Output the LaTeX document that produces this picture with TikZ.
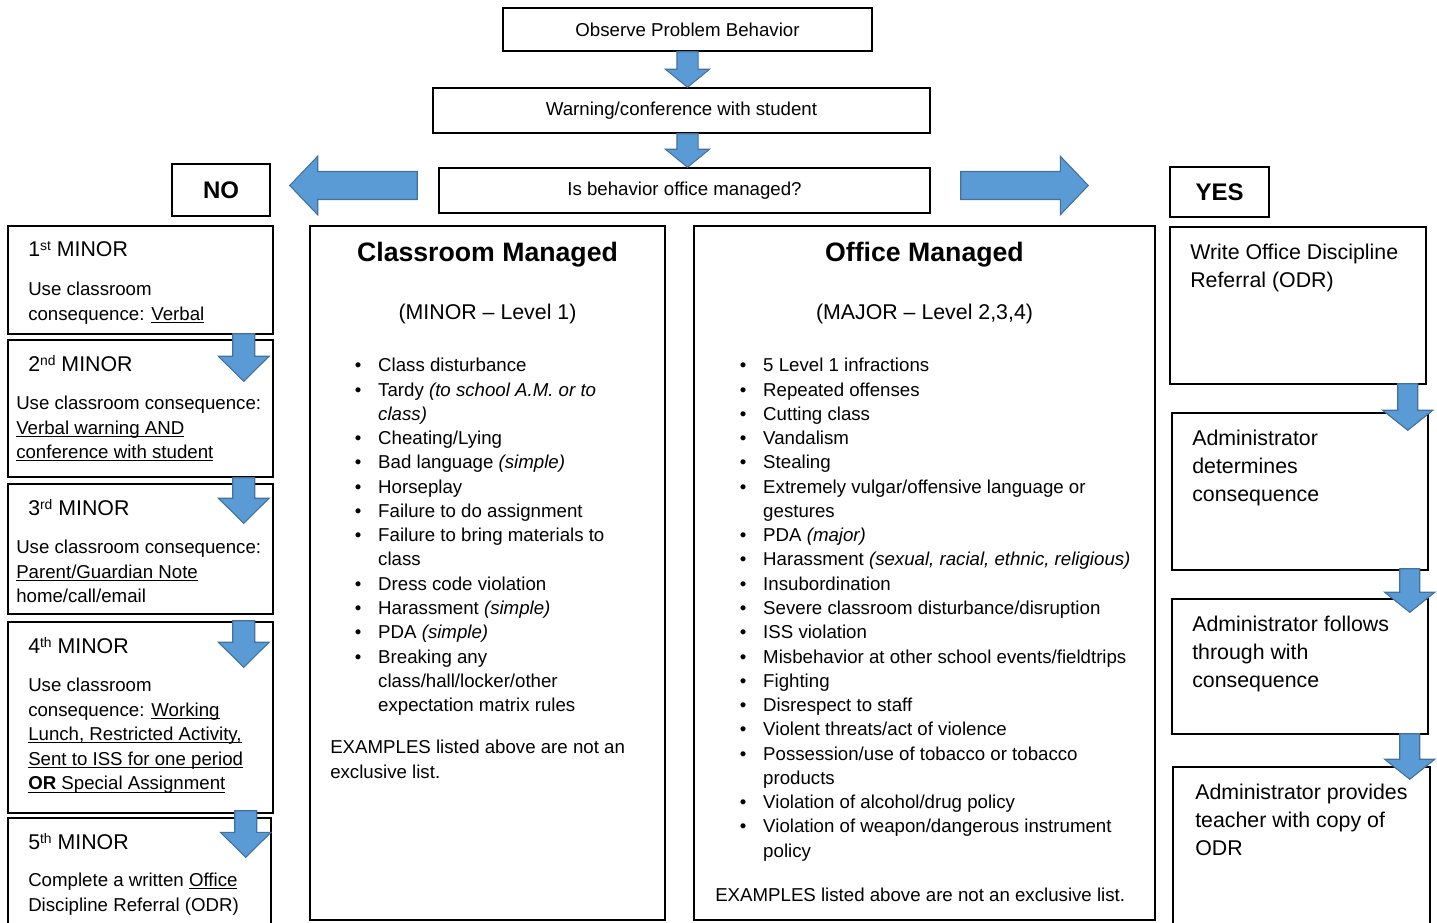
\documentclass[tikz,border=0pt]{standalone}
\usepackage{fontspec}
\setmainfont{Liberation Sans}
\usepackage{xcolor}
\usetikzlibrary{calc, fit, positioning}

\definecolor{arrowfill}{HTML}{5B9BD5}
\definecolor{arrowedge}{HTML}{41719C}

\newcommand{\ulin}[1]{\underline{\smash{#1}}}
\newcommand{\sups}[1]{\raisebox{5pt}{\fontsize{10.4}{10.4}\selectfont #1}}
\newcommand{\itm}[1]{\makebox[17.6pt][l]{\textbullet}#1}
\newcommand{\cnt}{\hspace*{17.6pt}}
% block arrow: half shaft, half head, head length, from, to
\newcommand{\blockarrow}[5]{%
  \coordinate (ba-s) at #4;
  \coordinate (ba-t) at #5;
  \coordinate (ba-b) at ($(ba-t)!#3!(ba-s)$);
  \draw[flowarrow] ($(ba-s)!#1!90:(ba-t)$) -- ($(ba-b)!#1!90:(ba-t)$) -- ($(ba-b)!#2!90:(ba-t)$) -- (ba-t)
    -- ($(ba-b)!#2!-90:(ba-t)$) -- ($(ba-b)!#1!-90:(ba-t)$) -- ($(ba-s)!#1!-90:(ba-t)$) -- cycle;}

\tikzset{
  box/.style={draw, line width=1.1pt, inner sep=0pt},
  boxtext/.style={inner sep=0pt, font=\fontsize{14}{17}\selectfont},
  answer/.style={inner sep=0pt, font=\bfseries\fontsize{18}{22}\selectfont},
  txt/.style={inner sep=0pt, align=left, anchor=north west},
  body/.style={txt, font=\fontsize{14}{18.4}\selectfont},
  head/.style={txt, font=\fontsize{16}{21}\selectfont},
  list/.style={txt, font=\fontsize{14}{18.2}\selectfont},
  title/.style={inner sep=0pt, anchor=base, font=\bfseries\fontsize{20}{24}\selectfont},
  level/.style={inner sep=0pt, anchor=base, font=\fontsize{16}{20}\selectfont},
  flowarrow/.style={draw=arrowedge, fill=arrowfill, line width=0.8pt, line join=miter},
}

\begin{document}
\begin{tikzpicture}[x=0.75pt, y=-0.75pt]
\useasboundingbox (0,0) rectangle (1437,922);
\clip (0,0) rectangle (1437,922);

% top of the chart
\node[box, fit={(503,8) (872,51)}, label={[boxtext]center:Observe Problem Behavior}] (observe) {};
\node[box, fit={(433,88) (930,133)}, label={[boxtext]center:Warning/conference with student}] (warning) {};
\node[box, fit={(439,168) (930,213)}, label={[boxtext]center:Is behavior office managed?}] (decide) {};
\node[box, fit={(172,164) (270,216)}, label={[answer]center:NO}] (no) {};
\node[box, fit={(1170,167) (1269,217)}, label={[answer]center:YES}] (yes) {};

% the four columns
\node[box, fit={(310,226) (665,920)}] (classroom) {};
\node[box, fit={(694,226) (1155,920)}] (office) {};
\node[box, fit={(8,226) (273,334)}] (m1) {};
\node[box, fit={(8,340) (273,477)}] (m2) {};
\node[box, fit={(8,484) (273,614)}] (m3) {};
\node[box, fit={(8,622) (273,813)}] (m4) {};
\node[box, fit={(8,818) (271,935)}] (m5) {};
\node[box, fit={(1170,227) (1426,384)}] (r1) {};
\node[box, fit={(1172,413) (1428,570)}] (r2) {};
\node[box, fit={(1172,599) (1428,734)}] (r3) {};
\node[box, fit={(1173,767) (1430,935)}] (r4) {};

% minor steps
\node[head] (m1h) at (28,241) {1\sups{st} MINOR};
\node[body] (m1t) at (28,282) {Use classroom\\consequence: \ulin{Verbal}};
\node[head] (m2h) at (28,355) {2\sups{nd} MINOR};
\node[body] (m2t) at (16,396) {Use classroom consequence:\\\ulin{Verbal warning AND}\\\ulin{conference with student}};
\node[head] (m3h) at (28,499) {3\sups{rd} MINOR};
\node[body] (m3t) at (16,540) {Use classroom consequence:\\\ulin{Parent/Guardian Note}\\home/call/email};
\node[head] (m4h) at (28,637) {4\sups{th} MINOR};
\node[body] (m4t) at (28,678) {Use classroom\\consequence: \ulin{Working}\\\ulin{Lunch, Restricted Activity,}\\\ulin{Sent to ISS for one period}\\\ulin{\textbf{OR} Special Assignment}};
\node[head] (m5h) at (28,833) {5\sups{th} MINOR};
\node[body] (m5t) at (28,873) {Complete a written \ulin{Office}\\Discipline Referral (ODR)};

% classroom managed
\node[title] (cmtitle) at (487.5,261.5) {Classroom Managed};
\node[level] (cmlevel) at (487.5,319.6) {(MINOR -- Level 1)};
\node[list] (cmlist) at (354.5,358) {\itm{Class disturbance}\\
  \itm{Tardy \textit{(to school A.M. or to}}\\\cnt\textit{class)}\\
  \itm{Cheating/Lying}\\
  \itm{Bad language \textit{(simple)}}\\
  \itm{Horseplay}\\
  \itm{Failure to do assignment}\\
  \itm{Failure to bring materials to}\\\cnt class\\
  \itm{Dress code violation}\\
  \itm{Harassment \textit{(simple)}}\\
  \itm{PDA \textit{(simple)}}\\
  \itm{Breaking any}\\\cnt class/hall/locker/other\\\cnt expectation matrix rules};
\node[body] (cmnote) at (330,740) {EXAMPLES listed above are not an\\exclusive list.};

% office managed
\node[title] (omtitle) at (924.5,261.5) {Office Managed};
\node[level] (omlevel) at (924.5,319.6) {(MAJOR -- Level 2,3,4)};
\node[list] (omlist) at (739.5,358) {\itm{5 Level 1 infractions}\\
  \itm{Repeated offenses}\\
  \itm{Cutting class}\\
  \itm{Vandalism}\\
  \itm{Stealing}\\
  \itm{Extremely vulgar/offensive language or}\\\cnt gestures\\
  \itm{PDA \textit{(major)}}\\
  \itm{Harassment \textit{(sexual, racial, ethnic, religious)}}\\
  \itm{Insubordination}\\
  \itm{Severe classroom disturbance/disruption}\\
  \itm{ISS violation}\\
  \itm{Misbehavior at other school events/fieldtrips}\\
  \itm{Fighting}\\
  \itm{Disrespect to staff}\\
  \itm{Violent threats/act of violence}\\
  \itm{Possession/use of tobacco or tobacco}\\\cnt products\\
  \itm{Violation of alcohol/drug policy}\\
  \itm{Violation of weapon/dangerous instrument}\\\cnt policy};
\node[body] (omnote) at (715,888) {EXAMPLES listed above are not an exclusive list.};

% referral steps
\node[head] (r1t) at (1190,244) {Write Office Discipline\\Referral (ODR)};
\node[head] (r2t) at (1192,430) {Administrator\\determines\\consequence};
\node[head] (r3t) at (1192,616) {Administrator follows\\through with\\consequence};
\node[head] (r4t) at (1195,784) {Administrator provides\\teacher with copy of\\ODR};

% arrows
\blockarrow{7.9pt}{16.5pt}{13.5pt}{(observe.south)}{(observe.south |- warning.north)}
\blockarrow{7.9pt}{16.5pt}{13.5pt}{(observe.south |- warning.south)}{(observe.south |- decide.north)}
\coordinate (nofrom) at ($(decide.west)+(-21,-5)$);
\blockarrow{10.5pt}{22pt}{21pt}{(nofrom)}{($(nofrom -| no.east)+(19,0)$)}
\coordinate (yesfrom) at ($(decide.east)+(30,-5)$);
\blockarrow{10.5pt}{22pt}{21pt}{(yesfrom)}{($(yesfrom -| yes.west)+(-81,0)$)}

\blockarrow{8.25pt}{19pt}{18.75pt}{($(m1.south east)+(-30,-1)$)}{($(m2.north east)+(-30,42)$)}
\blockarrow{8.25pt}{19pt}{18.75pt}{($(m2.south east)+(-30,0)$)}{($(m3.north east)+(-30,40)$)}
\blockarrow{8.25pt}{19pt}{18.75pt}{($(m3.south east)+(-30,6)$)}{($(m4.north east)+(-30,46)$)}
\blockarrow{8.25pt}{19pt}{18.75pt}{($(m4.south east)+(-28,-3)$)}{($(m5.north east)+(-26,40)$)}

\blockarrow{7.5pt}{18.75pt}{15pt}{($(r1.south east)+(-19,-1)$)}{($(r2.north east)+(-21,18)$)}
\blockarrow{7.5pt}{18.75pt}{15pt}{($(r2.south east)+(-19,-2)$)}{($(r3.north east)+(-19,14)$)}
\blockarrow{7.5pt}{18.75pt}{15pt}{($(r3.south east)+(-19,-1)$)}{($(r4.north east)+(-21,13)$)}
\end{tikzpicture}
\end{document}
